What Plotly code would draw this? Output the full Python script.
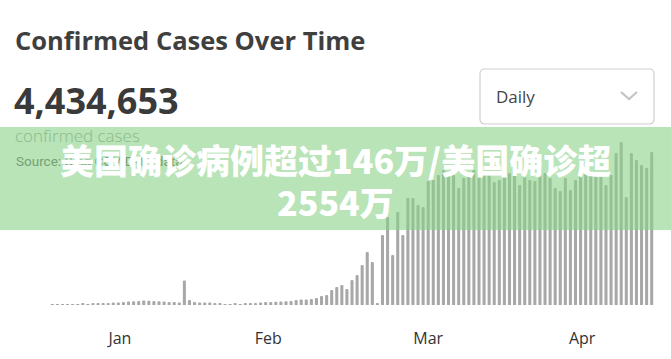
import plotly.graph_objects as go

# ---------------- data ----------------
month_labels = ["Jan", "Feb", "Mar", "Apr"]
month_tick_pos = [13.3, 42.5, 74.0, 104.3]   # day index under each month label

daily_cases = [
    300, 300, 300, 300, 300, 300,
    700, 600, 700, 800,
    1300, 1300, 1600, 1700, 2000, 2300, 2400, 2600, 2900, 2800,
    2600, 2500, 2300, 2000, 1900, 1600, 16000, 3200, 2000, 1700,
    1600, 1600, 1300, 700, 600, 500, 700, 600, 800, 700,
    900, 1600, 1900, 2000, 2100, 2300, 2400, 2600, 3200, 3500,
    3600, 3900, 4500, 5800, 6500,
    9800, 11700, 13000, 10400, 16300, 19500, 26000, 34500, 28000, 1300,
    45500, 57200, 32500, 60500, 45500, 69600, 69600, 65000, 63700, 80600,
    81300, 84500, 87800, 85800, 84500, 76100, 82600, 85800, 87800, 86500,
    85200, 84500, 80000, 81300, 84500, 85800, 85800, 78000, 84500, 81300,
    80600, 89700, 85800, 82600, 76100, 74100, 82600, 74800, 81300, 84500,
    85800, 85800, 84500, 84500, 78000, 84500, 98800, 106000, 70200, 98800,
    94300, 91000, 89100, 99500,
]
day_index = list(range(len(daily_cases)))

title_text = "Confirmed Cases Over Time"
total_text = "4,434,653"
total_label = "confirmed cases"
source_text = "Source: Bing COVID-19 data"
dropdown_text = "Daily"
banner_line1 = "美国确诊病例超过146万/美国确诊超"
banner_line2 = "2554万"

W, H = 671, 359


def px(x):
    return x / W


def py(y):
    return 1 - y / H


fig = go.Figure()
fig.add_trace(go.Bar(
    x=day_index, y=daily_cases,
    marker=dict(color="#a8a8a8", line=dict(width=0), cornerradius=1.5),
    hoverinfo="skip",
))

fig.update_layout(
    width=W, height=H, autosize=False,
    margin=dict(l=0, r=0, t=0, b=0),
    paper_bgcolor="white", plot_bgcolor="white",
    bargap=0.4, showlegend=False,
    xaxis=dict(
        range=[-10.3, 121.8], showgrid=False, zeroline=False, showline=False,
        tickmode="array", tickvals=month_tick_pos, ticktext=month_labels,
        ticks="", ticklabelstandoff=22,
        tickfont=dict(family="Open Sans", size=16, color="#333333"),
        fixedrange=True,
    ),
    yaxis=dict(
        domain=[54 / H, 1], range=[0, 198250], visible=False,
        showgrid=False, zeroline=False, fixedrange=True,
    ),
)

# dropdown box with rounded corners
x0, x1, y0, y1 = 480, 654, 69, 124
r = 5
path = (
    f"M {px(x0 + r)},{py(y0)} L {px(x1 - r)},{py(y0)} "
    f"Q {px(x1)},{py(y0)} {px(x1)},{py(y0 + r)} "
    f"L {px(x1)},{py(y1 - r)} Q {px(x1)},{py(y1)} {px(x1 - r)},{py(y1)} "
    f"L {px(x0 + r)},{py(y1)} Q {px(x0)},{py(y1)} {px(x0)},{py(y1 - r)} "
    f"L {px(x0)},{py(y0 + r)} Q {px(x0)},{py(y0)} {px(x0 + r)},{py(y0)} Z"
)
fig.add_shape(type="path", path=path, xref="paper", yref="paper",
              line=dict(color="#cfcfcf", width=1.2), fillcolor="white", layer="below")
# chevron
fig.add_shape(type="path", xref="paper", yref="paper",
              path=f"M {px(621)},{py(92)} L {px(629)},{py(99)} L {px(637)},{py(92)}",
              line=dict(color="#c4c4c4", width=2.2))

# green banner
fig.add_shape(type="rect", xref="paper", yref="paper",
              x0=0, x1=1, y0=py(230), y1=py(127),
              fillcolor="rgba(137,210,137,0.6)", line=dict(width=0), layer="above")

ann = []
ann.append(dict(text=title_text, x=px(13), y=py(40), xanchor="left", yanchor="middle",
                font=dict(family="Open Sans", size=25.5, color="#3f3f3f", weight=700)))
ann.append(dict(text=total_text, x=px(12), y=py(100), xanchor="left", yanchor="middle",
                font=dict(family="Open Sans", size=36, color="#3a3a3a", weight=700)))
ann.append(dict(text=total_label, x=px(13), y=py(135), xanchor="left", yanchor="middle",
                font=dict(family="Open Sans", size=17, color="rgb(140,186,140)", weight=300)))
ann.append(dict(text=source_text, x=px(14), y=py(161), xanchor="left", yanchor="middle",
                font=dict(family="Roboto", size=13.5, color="rgb(118,160,118)")))
ann.append(dict(text=dropdown_text, x=px(494), y=py(97), xanchor="left", yanchor="middle",
                font=dict(family="Open Sans", size=17, color="#444444")))
ann.append(dict(text=banner_line1, x=px(335), y=py(160), xanchor="center", yanchor="middle",
                font=dict(family="Noto Sans CJK SC", size=34, color="white", weight=900)))
ann.append(dict(text=banner_line2, x=px(335), y=py(201), xanchor="center", yanchor="middle",
                font=dict(family="Noto Sans CJK SC", size=34, color="white", weight=900)))
for a in ann:
    a.update(xref="paper", yref="paper", showarrow=False)
fig.update_layout(annotations=ann)

fig.write_html("out.html", config={"displayModeBar": False})
